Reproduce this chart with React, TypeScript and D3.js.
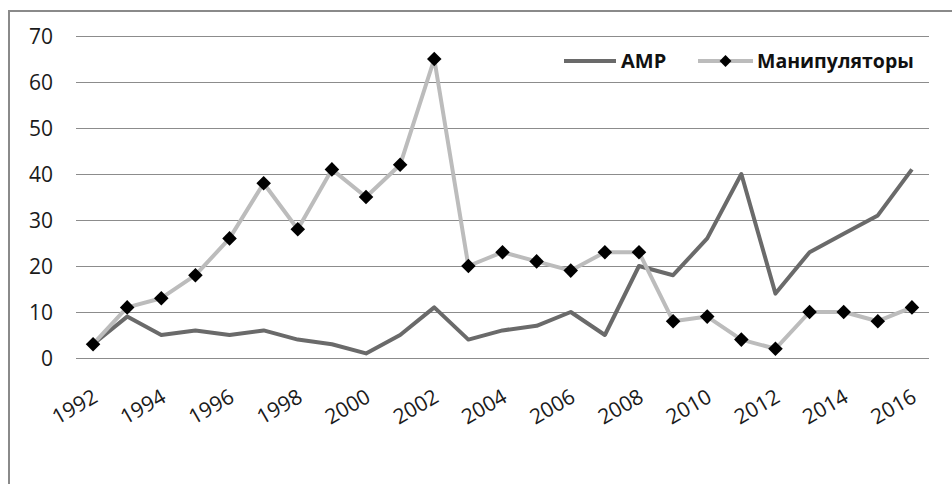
import React, { useEffect, useRef } from "react";
import * as d3 from "d3";

const years = [
  "1992","1993","1994","1995","1996","1997","1998","1999","2000","2001","2002","2003",
  "2004","2005","2006","2007","2008","2009","2010","2011","2012","2013","2014","2015","2016",
];
const ampValues = [3, 9, 5, 6, 5, 6, 4, 3, 1, 5, 11, 4, 6, 7, 10, 5, 20, 18, 26, 40, 14, 23, 27, 31, 41];
const manipValues = [3, 11, 13, 18, 26, 38, 28, 41, 35, 42, 65, 20, 23, 21, 19, 23, 23, 8, 9, 4, 2, 10, 10, 8, 11];
const yTicks = [0, 10, 20, 30, 40, 50, 60, 70];
const seriesNames = ["AMP", "Манипуляторы"];

const W = 952;
const H = 484;
const FONT = "'Open Sans', 'Noto Sans', sans-serif";

export default function App() {
  const ref = useRef<SVGSVGElement | null>(null);

  useEffect(() => {
    const svg = d3.select(ref.current);
    svg.selectAll("*").remove();

    const x = d3.scaleBand<string>().domain(years).range([76, 929]);
    const y = d3.scaleLinear().domain([0, 70]).range([358, 36]);
    const cx = (d: string) => (x(d) as number) + x.bandwidth() / 2;

    // chart border
    svg.append("rect")
      .attr("x", 9).attr("y", 11)
      .attr("width", 1000).attr("height", 600)
      .attr("fill", "white")
      .attr("stroke", "#8a8a8a").attr("stroke-width", 2);

    // gridlines
    svg.append("g").selectAll("line").data(yTicks).join("line")
      .attr("x1", 76).attr("x2", 929)
      .attr("y1", (d) => Math.round(y(d)) + 0.5)
      .attr("y2", (d) => Math.round(y(d)) + 0.5)
      .attr("stroke", "#8c8c8c").attr("stroke-width", 1);

    // y labels
    svg.append("g").selectAll("text").data(yTicks).join("text")
      .attr("x", 53).attr("y", (d) => y(d))
      .attr("dy", "0.36em")
      .attr("text-anchor", "end")
      .attr("font-family", FONT).attr("font-size", 21)
      .attr("fill", "#1a1a1a")
      .text((d) => String(d));

    // x labels (every other year)
    svg.append("g").selectAll("text")
      .data(years.filter((_, i) => i % 2 === 0)).join("text")
      .attr("transform", (d) => `translate(${cx(d) + 6},401) rotate(-30)`)
      .attr("text-anchor", "end")
      .attr("font-family", FONT).attr("font-size", 21)
      .attr("fill", "#1a1a1a")
      .text((d) => d);

    const line = d3.line<number>()
      .x((_, i) => cx(years[i]))
      .y((d) => y(d));

    svg.append("path").datum(ampValues)
      .attr("d", line)
      .attr("fill", "none")
      .attr("stroke", "#6a6a6a").attr("stroke-width", 4)
      .attr("stroke-linejoin", "round");

    svg.append("path").datum(manipValues)
      .attr("d", line)
      .attr("fill", "none")
      .attr("stroke", "#bcbcbc").attr("stroke-width", 4)
      .attr("stroke-linejoin", "round");

    const diamond = d3.symbol().type(d3.symbolDiamond2).size(135);

    svg.append("g").selectAll("path").data(manipValues).join("path")
      .attr("transform", (d, i) => `translate(${cx(years[i])},${y(d)})`)
      .attr("d", diamond)
      .attr("fill", "#000");

    // legend
    const lg = svg.append("g");
    lg.append("line")
      .attr("x1", 564).attr("x2", 616).attr("y1", 61).attr("y2", 61)
      .attr("stroke", "#6a6a6a").attr("stroke-width", 4);
    lg.append("text")
      .attr("x", 621).attr("y", 61).attr("dy", "0.36em")
      .attr("font-family", FONT).attr("font-size", 20).attr("font-weight", "bold")
      .attr("fill", "#111")
      .text(seriesNames[0]);
    lg.append("line")
      .attr("x1", 698).attr("x2", 753).attr("y1", 61).attr("y2", 61)
      .attr("stroke", "#bcbcbc").attr("stroke-width", 4);
    lg.append("path")
      .attr("transform", "translate(725.5,61)")
      .attr("d", d3.symbol().type(d3.symbolDiamond2).size(90)())
      .attr("fill", "#000");
    lg.append("text")
      .attr("x", 757).attr("y", 61).attr("dy", "0.36em")
      .attr("font-family", FONT).attr("font-size", 19.5).attr("font-weight", "bold")
      .attr("fill", "#111")
      .text(seriesNames[1]);
  }, []);

  return (
    <svg
      ref={ref}
      width={W}
      height={H}
      style={{ position: "absolute", left: 0, top: 0, background: "white" }}
    />
  );
}
